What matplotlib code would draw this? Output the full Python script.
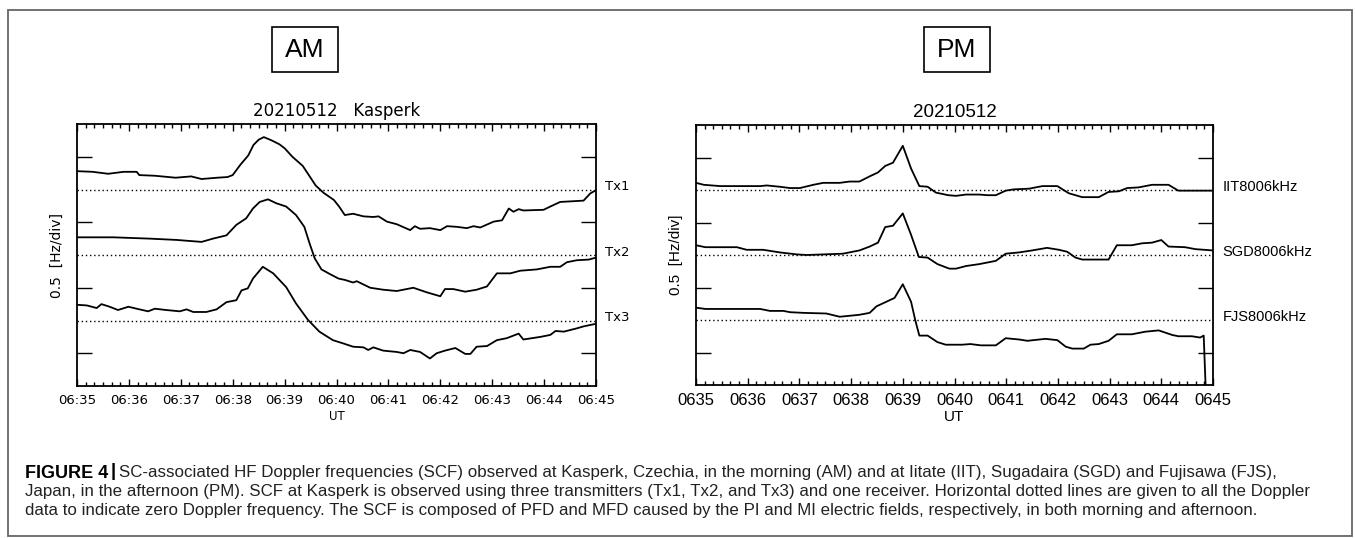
import numpy as np
import matplotlib.pyplot as plt
from matplotlib.patches import Rectangle

W, H = 1355, 538

# minutes after 06:35 UT, values in divisions (zero lines at 3, 2, 1)
tx1_t = [0.00, 0.30, 0.60, 0.90, 1.15, 1.20, 1.50, 1.90, 2.20, 2.40, 2.70, 2.90, 3.00, 3.15, 3.30, 3.40, 3.50, 3.60,
         3.75, 3.90, 4.00, 4.15, 4.35, 4.50, 4.60, 4.75, 4.95, 5.05, 5.16, 5.32, 5.52, 5.71, 5.81, 5.97, 6.16, 6.42,
         6.51, 6.61, 6.80, 7.00, 7.13, 7.32, 7.51, 7.64, 7.77, 8.03, 8.19, 8.32, 8.41, 8.51, 8.60, 8.99, 9.12, 9.31,
         9.76, 9.89, 10.0]
tx1_v = [3.28, 3.27, 3.24, 3.27, 3.27, 3.22, 3.21, 3.18, 3.20, 3.16, 3.18, 3.19, 3.22, 3.38, 3.52, 3.68, 3.76, 3.80,
         3.75, 3.69, 3.63, 3.50, 3.36, 3.18, 3.06, 2.95, 2.84, 2.74, 2.61, 2.63, 2.59, 2.58, 2.59, 2.51, 2.47, 2.38,
         2.44, 2.40, 2.41, 2.38, 2.44, 2.43, 2.41, 2.44, 2.42, 2.51, 2.53, 2.71, 2.66, 2.70, 2.68, 2.69, 2.74, 2.81,
         2.83, 2.94, 2.99]

tx2_t = [0.00, 0.70, 1.40, 1.92, 2.40, 2.62, 2.88, 3.07, 3.26, 3.39, 3.52, 3.68, 3.84, 4.03, 4.22, 4.38, 4.48, 4.58,
         4.71, 4.87, 5.04, 5.16, 5.32, 5.39, 5.65, 5.90, 6.16, 6.48, 6.74, 7.00, 7.09, 7.25, 7.48, 7.70, 7.90, 8.09,
         8.35, 8.54, 8.86, 9.12, 9.31, 9.44, 9.63, 9.86, 10.0]
tx2_v = [2.27, 2.27, 2.25, 2.23, 2.20, 2.25, 2.30, 2.46, 2.56, 2.71, 2.81, 2.85, 2.79, 2.74, 2.61, 2.43, 2.18, 1.95,
         1.78, 1.71, 1.64, 1.62, 1.58, 1.60, 1.50, 1.47, 1.45, 1.50, 1.43, 1.37, 1.48, 1.48, 1.44, 1.47, 1.52, 1.72,
         1.72, 1.76, 1.78, 1.82, 1.82, 1.89, 1.92, 1.93, 1.96]

tx3_t = [0.00, 0.19, 0.38, 0.47, 0.63, 0.79, 0.99, 1.15, 1.37, 1.50, 1.72, 1.98, 2.11, 2.24, 2.49, 2.69, 2.88, 3.07,
         3.17, 3.29, 3.39, 3.58, 3.78, 4.03, 4.22, 4.45, 4.67, 4.93, 5.13, 5.32, 5.52, 5.61, 5.71, 5.90, 6.16, 6.29,
         6.42, 6.61, 6.80, 6.93, 7.09, 7.29, 7.48, 7.58, 7.70, 7.90, 8.09, 8.28, 8.51, 8.60, 8.93, 9.12, 9.22, 9.38,
         9.63, 9.76, 10.0]
tx3_v = [1.24, 1.23, 1.19, 1.25, 1.21, 1.16, 1.21, 1.18, 1.14, 1.18, 1.16, 1.14, 1.17, 1.13, 1.13, 1.17, 1.28, 1.31,
         1.46, 1.49, 1.64, 1.82, 1.72, 1.51, 1.26, 1.01, 0.83, 0.70, 0.65, 0.60, 0.59, 0.55, 0.59, 0.54, 0.52, 0.50,
         0.55, 0.52, 0.42, 0.50, 0.54, 0.58, 0.49, 0.49, 0.60, 0.61, 0.70, 0.73, 0.80, 0.71, 0.75, 0.78, 0.84, 0.83,
         0.88, 0.91, 0.95]

iit_t = [0.00, 0.15, 0.47, 1.24, 1.37, 1.62, 1.82, 2.01, 2.27, 2.46, 2.78, 2.97, 3.16, 3.36, 3.52, 3.66, 3.81, 4.00,
         4.16, 4.32, 4.48, 4.64, 4.88, 5.03, 5.22, 5.48, 5.64, 5.80, 5.99, 6.15, 6.44, 6.70, 6.99, 7.21, 7.47, 7.79,
         7.98, 8.18, 8.34, 8.56, 8.82, 9.14, 9.33, 10.0]
iit_v = [3.11, 3.08, 3.06, 3.06, 3.07, 3.05, 3.03, 3.03, 3.08, 3.11, 3.11, 3.13, 3.13, 3.21, 3.27, 3.37, 3.42, 3.68,
         3.33, 3.06, 3.05, 2.96, 2.92, 2.91, 2.93, 2.93, 2.92, 2.92, 2.99, 3.01, 3.02, 3.06, 3.06, 2.95, 2.89, 2.89,
         2.97, 2.98, 3.03, 3.04, 3.08, 3.08, 2.99, 2.99]

sgd_t = [0.00, 0.18, 0.79, 0.98, 1.30, 1.62, 1.94, 2.14, 2.84, 3.16, 3.36, 3.52, 3.66, 3.81, 4.00, 4.16, 4.31, 4.48,
         4.67, 4.90, 5.03, 5.22, 5.48, 5.80, 5.99, 6.25, 6.50, 6.79, 7.02, 7.18, 7.34, 7.47, 7.98, 8.14, 8.43, 8.63,
         8.82, 9.00, 9.14, 9.46, 9.66, 10.0]
sgd_v = [2.15, 2.12, 2.12, 2.08, 2.08, 2.04, 2.01, 2.00, 2.02, 2.07, 2.13, 2.19, 2.43, 2.45, 2.64, 2.31, 1.97, 1.96,
         1.86, 1.79, 1.79, 1.83, 1.86, 1.91, 2.02, 2.04, 2.07, 2.11, 2.08, 2.05, 1.96, 1.93, 1.93, 2.15, 2.15, 2.18,
         2.19, 2.23, 2.13, 2.12, 2.09, 2.07]

fjs_t = [0.00, 0.18, 1.24, 1.43, 1.69, 1.82, 2.07, 2.52, 2.78, 3.16, 3.36, 3.49, 3.68, 3.84, 4.00, 4.16, 4.24, 4.32,
         4.48, 4.67, 4.83, 5.15, 5.31, 5.51, 5.80, 5.99, 6.25, 6.41, 6.76, 6.99, 7.15, 7.28, 7.50, 7.63, 7.79, 7.98,
         8.14, 8.43, 8.69, 8.95, 9.21, 9.33, 9.59, 9.75, 9.82, 9.88]
fjs_v = [1.19, 1.17, 1.17, 1.14, 1.14, 1.12, 1.11, 1.10, 1.05, 1.08, 1.11, 1.21, 1.28, 1.34, 1.55, 1.28, 1.00, 0.76,
         0.76, 0.66, 0.62, 0.62, 0.63, 0.61, 0.61, 0.72, 0.70, 0.68, 0.71, 0.69, 0.59, 0.56, 0.56, 0.62, 0.63, 0.68,
         0.78, 0.78, 0.82, 0.84, 0.77, 0.75, 0.75, 0.73, 0.76, -0.5]

am_ticks = ['06:35', '06:36', '06:37', '06:38', '06:39', '06:40', '06:41', '06:42', '06:43', '06:44', '06:45']
pm_ticks = ['0635', '0636', '0637', '0638', '0639', '0640', '0641', '0642', '0643', '0644', '0645']
am_names = ['Tx1', 'Tx2', 'Tx3']
pm_names = ['IIT8006kHz', 'SGD8006kHz', 'FJS8006kHz']
zeros = [3, 2, 1]

caption = [
    "SC-associated HF Doppler frequencies (SCF) observed at Kasperk, Czechia, in the morning (AM) and at Iitate (IIT), Sugadaira (SGD) and Fujisawa (FJS),",
    "Japan, in the afternoon (PM). SCF at Kasperk is observed using three transmitters (Tx1, Tx2, and Tx3) and one receiver. Horizontal dotted lines are given to all the Doppler",
    "data to indicate zero Doppler frequency. The SCF is composed of PFD and MFD caused by the PI and MI electric fields, respectively, in both morning and afternoon.",
]


def P(x, y):
    return x / W, 1 - y / H


fig = plt.figure(figsize=(W / 100, H / 100), dpi=100)

# outer frame
fig.patches.append(Rectangle(P(8, 536), (1352 - 8) / W, (536 - 10) / H, transform=fig.transFigure,
                             fill=False, edgecolor='#666666', lw=1.3))


def panel(rect, series, names, ticks, fam, tsize, lsize):
    ax = fig.add_axes(rect)
    for (t, v) in series:
        ax.plot(t, v, color='black', lw=1.3)
    for z in zeros:
        ax.axhline(z, color='black', lw=1.0, ls=(0, (1, 2)))
    ax.set_xlim(0, 10)
    ax.set_ylim(0, 4)
    ax.set_xticks(range(11))
    ax.set_xticks(np.arange(0, 10.01, 1 / 6), minor=True)
    ax.set_xticklabels(ticks, family=fam, fontsize=tsize)
    ax.set_yticks([0.5, 1.5, 2.5, 3.5])
    ax.set_yticklabels([])
    ax.tick_params(axis='x', which='major', direction='in', length=5, top=True, width=1, pad=6)
    ax.tick_params(axis='x', which='minor', direction='in', length=3, top=True, width=1)
    ax.tick_params(axis='y', direction='in', length=11, right=True, width=1)
    for s in ax.spines.values():
        s.set_linewidth(1.3)
    for z, n in zip(zeros, names):
        ax.text(1.018, z / 4 + 0.01, n, transform=ax.transAxes, family=fam, fontsize=lsize, va='center')
    return ax


axL = panel([77 / W, 1 - 386 / H, 519 / W, 262 / H],
            [(tx1_t, tx1_v), (tx2_t, tx2_v), (tx3_t, tx3_v)], am_names, am_ticks, 'DejaVu Sans', 9.5, 9.5)
axR = panel([696 / W, 1 - 385 / H, 517 / W, 260 / H],
            [(iit_t, iit_v), (sgd_t, sgd_v), (fjs_t, fjs_v)], pm_names, pm_ticks, 'Liberation Sans', 12, 10.5)

axL.set_xlabel('UT', family='DejaVu Sans', fontsize=8.5, labelpad=2)
axR.set_xlabel('UT', family='Liberation Sans', fontsize=11, labelpad=1)
axL.set_ylabel('0.5  [Hz/div]', family='DejaVu Sans', fontsize=10, labelpad=6)
axR.set_ylabel('0.5  [Hz/div]', family='Liberation Sans', fontsize=11, labelpad=6)
axL.set_title('20210512   Kasperk', family='DejaVu Sans', fontsize=12, pad=6)
axR.set_title('20210512', family='Liberation Sans', fontsize=13.5, pad=6)

# AM / PM boxes
for cx, lab in [(305, 'AM'), (957, 'PM')]:
    fig.patches.append(Rectangle(P(cx - 33, 72), 66 / W, 45 / H, transform=fig.transFigure,
                                 fill=False, edgecolor='black', lw=1.2))
    fig.text(*P(cx, 50), lab, ha='center', va='center', fontsize=19,
             family=['Liberation Sans Narrow', 'Liberation Sans'])

# caption
fig.text(*P(25, 473), 'FIGURE 4', fontsize=13, fontweight='bold', family='Liberation Sans', va='center')
fig.text(*P(111, 472), '|', fontsize=13.5, fontweight='bold', family='Liberation Sans', va='center')
for i, line in enumerate(caption):
    x0 = 119 if i == 0 else 25
    fig.text(*P(x0, 473 + i * 18.5), line, fontsize=12.2, family='Liberation Sans', va='center', color='#222222')

fig.savefig('out.png', dpi=100)
